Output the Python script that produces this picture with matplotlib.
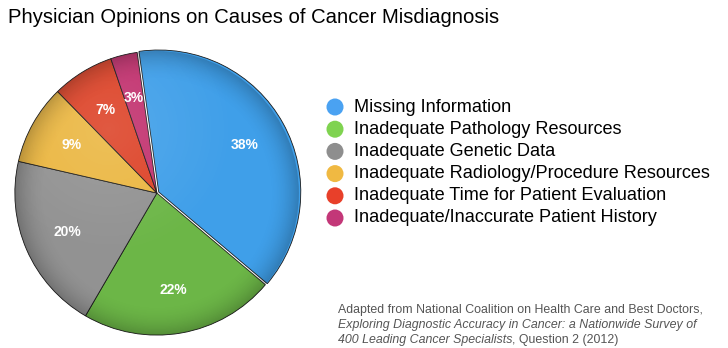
import numpy as np
import matplotlib
matplotlib.use("Agg")
import matplotlib.pyplot as plt
from matplotlib.patches import Circle

# data
causes = ["Missing Information", "Inadequate Pathology Resources",
          "Inadequate Genetic Data", "Inadequate Radiology/Procedure Resources",
          "Inadequate Time for Patient Evaluation",
          "Inadequate/Inaccurate Patient History"]
shares = [38, 22, 20, 9, 7, 3]
slice_colors = ["#3f9fe9", "#6cb647", "#929292", "#ebb742", "#dd4328", "#c2326f"]
legend_colors = ["#4aa2f2", "#7fd350", "#8e8e8e", "#f0b942", "#e8402a", "#c33778"]

plt.rcParams['font.family'] = ['Liberation Sans', 'DejaVu Sans']

fig = plt.figure(figsize=(7.28, 3.48), dpi=100)

fig.text(0.011, 0.95, "Physician Opinions on Causes of Cancer Misdiagnosis",
         fontsize=14.6, va="center", ha="left", color="black")

# pie
ax = fig.add_axes([0.0165, 0.0287, 0.398, 0.833])
wedges, _, autotexts = ax.pie(
    shares, colors=slice_colors, startangle=98, counterclock=False,
    explode=[0.015, 0, 0, 0, 0, 0], autopct="%d", pctdistance=0.69,
    center=(0.04, 0),
    wedgeprops=dict(edgecolor="#1a1a1a", linewidth=0.6))
for t, v in zip(autotexts, shares):
    t.set_text(f"{v}%")
    t.set_color("white")
    t.set_fontweight("bold")
    t.set_fontsize(10)
    t.set_zorder(5)
ax.set_xlim(-0.98, 1.06)
ax.set_ylim(-1.02, 1.02)
ax.set_aspect("equal")
ax.axis("off")

# soft shading to mimic the bevel look
n = 400
g = np.linspace(-1.1, 1.1, n)
xx, yy = np.meshgrid(g, g)
rr = np.sqrt((xx - 0.04)**2 + yy**2)
shade = np.zeros((n, n, 4))
shade[..., 3] = np.clip((rr - 0.78) / 0.25, 0, 1) ** 2 * 0.28
im = ax.imshow(shade, extent=[-1.1, 1.1, -1.1, 1.1], origin="lower", zorder=3)
im.set_clip_path(Circle((0.04, 0), 1.0, transform=ax.transData))
light = np.ones((n, n, 4))
light[..., 3] = np.clip(1 - np.sqrt((xx + 0.3)**2 + (yy - 0.45)**2) / 0.9, 0, 1) * 0.12
im2 = ax.imshow(light, extent=[-1.1, 1.1, -1.1, 1.1], origin="lower", zorder=3)
im2.set_clip_path(Circle((0.04, 0), 1.0, transform=ax.transData))

# legend, in pixel coordinates of an overlay axes
lax = fig.add_axes([0, 0, 1, 1])
lax.set_xlim(0, 728)
lax.set_ylim(348, 0)
lax.axis("off")
ys = 107 + 22.2 * np.arange(len(causes))
lax.scatter([335] * len(causes), ys, s=150, c=legend_colors, linewidths=0)
for y, lab in zip(ys, causes):
    lax.text(354, y, lab, fontsize=13.1, ha="left", va="center", color="black")

# source note
src_color = "#555555"
fs = 8.9
lax.text(338, 310, "Adapted from National Coalition on Health Care and Best Doctors,",
         fontsize=fs, color=src_color, va="center")
lax.text(338, 325, "Exploring Diagnostic Accuracy in Cancer: a Nationwide Survey of",
         fontsize=fs, color=src_color, va="center", style="italic")
t1 = lax.text(338, 340, "400 Leading Cancer Specialists",
              fontsize=fs, color=src_color, va="center", style="italic")
fig.canvas.draw()
bb = t1.get_window_extent()
lax.text(bb.x1, 340, ", Question 2 (2012)", fontsize=fs, color=src_color,
         va="center")

fig.savefig("out.png", dpi=100)
